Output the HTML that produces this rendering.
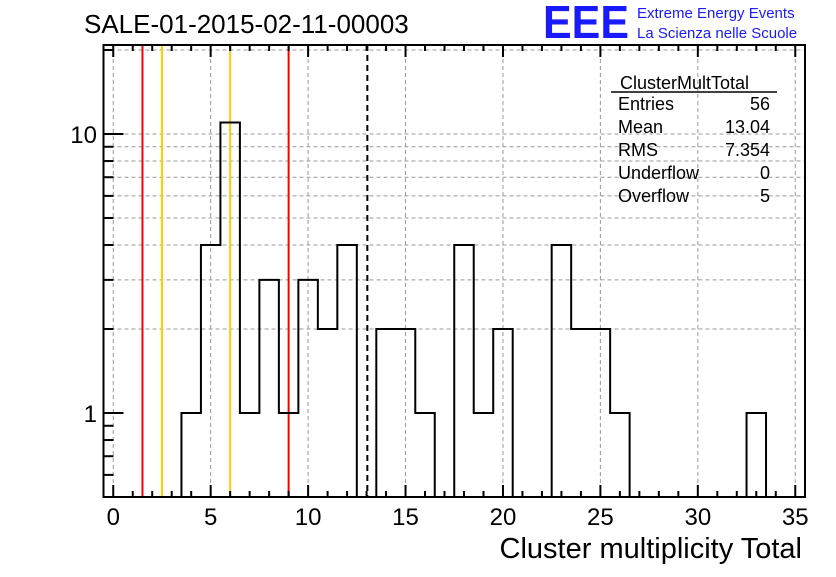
<!DOCTYPE html>
<html><head><meta charset="utf-8"><style>
body{margin:0;background:#fff;width:836px;height:572px;overflow:hidden}
svg{font-family:"Liberation Sans",sans-serif}
</style></head><body>
<svg width="836" height="572" id="chart">
<text x="84" y="33" font-size="26">SALE-01-2015-02-11-00003</text>
<g>
<text x="543" y="38" font-size="46" font-weight="bold" fill="#1a1aff" textLength="86" lengthAdjust="spacingAndGlyphs">EEE</text>
<text x="637" y="18" font-size="15" fill="#1a1aff">Extreme Energy Events</text>
<text x="637" y="38" font-size="15" fill="#1a1aff">La Scienza nelle Scuole</text>
</g>
<g id="grid"></g>
<g id="marks"></g>
<g id="axes"></g>
<g font-size="18">
<text x="620" y="89">ClusterMultTotal</text>
<line x1="611" y1="92" x2="777" y2="92" stroke="#000" stroke-width="1.5"/>
<text x="618" y="110">Entries</text><text x="770" y="110" text-anchor="end">56</text>
<text x="618" y="133">Mean</text><text x="770" y="133" text-anchor="end">13.04</text>
<text x="618" y="156">RMS</text><text x="770" y="156" text-anchor="end">7.354</text>
<text x="618" y="179">Underflow</text><text x="770" y="179" text-anchor="end">0</text>
<text x="618" y="202">Overflow</text><text x="770" y="202" text-anchor="end">5</text>
</g>
<text x="802" y="558" font-size="29" text-anchor="end">Cluster multiplicity Total</text>
</svg>
<script>
const binCenters=[4,5,6,7,8,9,10,11,12,13,14,15,16,17,18,19,20,21,22,23,24,25,26,27,28,29,30,31,32,33];
const counts=[1,4,11,1,3,1,3,2,4,0,2,2,1,0,4,1,2,0,0,4,2,2,1,0,0,0,0,0,0,1];
const xTicks=[0,5,10,15,20,25,30,35];
const yTicks=[1,10];
const cutLines=[{v:1.5,c:"#ff0000"},{v:2.5,c:"#ffcc00"},{v:6.0,c:"#ffcc00"},{v:9.0,c:"#ff0000"}];
const meanValue=13.04;
const L=103.5,R=805,T=45,B=497,XMIN=-0.5,XMAX=35.5,YMIN=0.5,YMAX=21;
const y1=413,dec=279;
const X=v=>L+(v-XMIN)/(XMAX-XMIN)*(R-L);
const Y=v=>v<=YMIN?B:Math.max(T,y1-Math.log10(v)*dec);
const NS="http://www.w3.org/2000/svg";
function mk(p,t,a){const e=document.createElementNS(NS,t);for(const k in a)e.setAttribute(k,a[k]);p.appendChild(e);return e;}
const grid=document.getElementById('grid'),marks=document.getElementById('marks'),axes=document.getElementById('axes');
xTicks.forEach(t=>{if(t>XMIN&&t<XMAX){const l=mk(grid,'line',{x1:X(t),x2:X(t),y1:T,y2:B,stroke:'#999','stroke-dasharray':'4,3'});

}});
[2,3,4,5,6,7,8,9,10,20].forEach(v=>{const l=mk(grid,'line',{x1:L,x2:R,y1:Y(v),y2:Y(v),stroke:'#999','stroke-dasharray':'4,3'});

});
cutLines.forEach(c=>{const l=mk(marks,'line',{x1:X(c.v),x2:X(c.v),y1:T,y2:B,stroke:c.c,'stroke-width':2});

});
const ml=mk(marks,'line',{x1:X(meanValue),x2:X(meanValue),y1:T,y2:B,stroke:'#000','stroke-width':2,'stroke-dasharray':'6,4'});


let d='';
binCenters.forEach((c,i)=>{const y=Y(counts[i]);const x0=X(c-0.5),x1=X(c+0.5);d+=(i==0?'M'+x0+','+B:'')+' L'+x0+','+y+' L'+x1+','+y;});
d+=' L'+X(binCenters[binCenters.length-1]+0.5)+','+B;
const h=mk(marks,'path',{d:d,fill:'none',stroke:'#000','stroke-width':2});


const fr=mk(axes,'rect',{x:L,y:T,width:R-L,height:B-T,fill:'none',stroke:'#000','stroke-width':2});


for(let t=0;t<=35;t++){const len=t%5==0?12:6;
mk(axes,'line',{x1:X(t),x2:X(t),y1:B,y2:B-len,stroke:'#000','stroke-width':2});
mk(axes,'line',{x1:X(t),x2:X(t),y1:T,y2:T+len,stroke:'#000','stroke-width':2});}
xTicks.forEach(t=>{const e=mk(axes,'text',{x:X(t),y:525,'font-size':24,'text-anchor':'middle'});e.textContent=t;

});
[0.6,0.7,0.8,0.9,1,2,3,4,5,6,7,8,9,10,20].forEach(v=>{const len=(v==1||v==10)?20:10;mk(axes,'line',{x1:L,x2:L+len,y1:Y(v),y2:Y(v),stroke:'#000','stroke-width':2});});
yTicks.forEach(t=>{const e=mk(axes,'text',{x:97,y:Y(t)+9,'font-size':24,'text-anchor':'end'});e.textContent=t;

});
</script>
</body></html>
